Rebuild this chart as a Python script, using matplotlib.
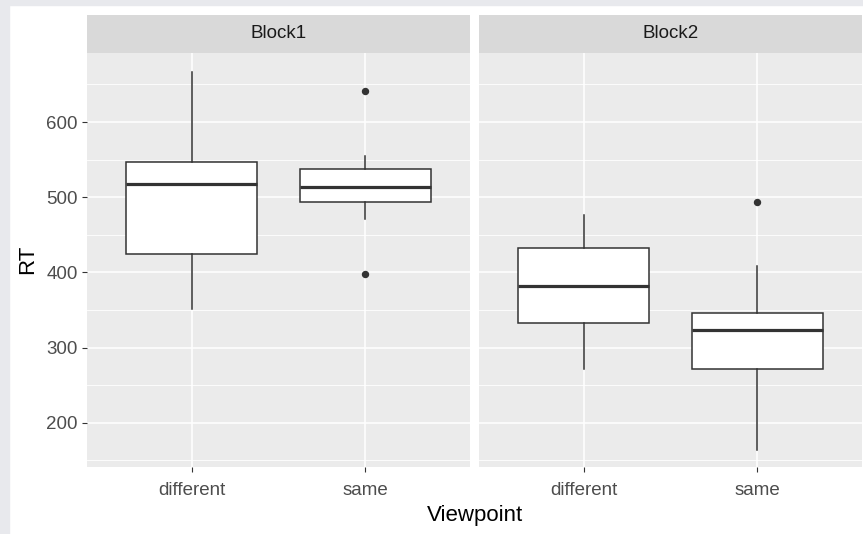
import matplotlib
matplotlib.use("Agg")
import matplotlib.pyplot as plt
from matplotlib.patches import Rectangle

plt.rcParams['font.family'] = ['Liberation Sans', 'DejaVu Sans']

# Values (RT by viewpoint, per block)
blocks = ["Block1", "Block2"]
viewpoints = ["different", "same"]
whislo = [[351, 471], [271, 164]]
q1 = [[424, 493], [333, 271]]
med = [[518, 513], [382, 323]]
q3 = [[547, 538], [432, 346]]
whishi = [[667, 555], [476, 408]]
fliers = [[[], [641, 398]], [[], [494]]]

W, H = 863, 534
fig = plt.figure(figsize=(W / 100, H / 100), dpi=100)
fig.patch.set_facecolor("white")

# light grey screenshot frame on left and top
fig.add_artist(Rectangle((0, 0), 9 / W, 1, transform=fig.transFigure, color="#e8e9ed", zorder=0))
fig.add_artist(Rectangle((0, 1 - 5 / H), 1, 5 / H, transform=fig.transFigure, color="#e8e9ed", zorder=0))

panel_left = [87.3, 479.3]
panel_w = 382.5
top, bottom = 52.7, 466.7
strip_top = 15

for i, blk in enumerate(blocks):
    ax = fig.add_axes([panel_left[i] / W, (H - bottom) / H, panel_w / W, (bottom - top) / H])
    ax.set_facecolor("#ebebeb")
    for s in ax.spines.values():
        s.set_visible(False)

    stats = []
    for j, vp in enumerate(viewpoints):
        stats.append(dict(label=vp, whislo=whislo[i][j], q1=q1[i][j], med=med[i][j],
                          q3=q3[i][j], whishi=whishi[i][j], fliers=fliers[i][j]))
    ax.bxp(stats, positions=[1, 2], widths=0.75, patch_artist=True, showcaps=False,
           boxprops=dict(facecolor="white", edgecolor="#333333", linewidth=1.1),
           medianprops=dict(color="#333333", linewidth=2.3, solid_capstyle="butt"),
           whiskerprops=dict(color="#333333", linewidth=1.1),
           flierprops=dict(marker="o", markerfacecolor="#333333", markeredgecolor="#333333",
                           markersize=4.3),
           zorder=3)

    ax.set_xlim(0.4, 2.6)
    ax.set_ylim(141.5, 692.2)
    ax.set_yticks([200, 300, 400, 500, 600])
    ax.set_yticks([150, 250, 350, 450, 550, 650], minor=True)
    ax.set_xticks([1, 2])
    ax.set_xticklabels(viewpoints)
    ax.grid(which="major", color="white", linewidth=1.1, zorder=0)
    ax.grid(which="minor", axis="y", color="white", linewidth=0.6, zorder=0)
    ax.set_axisbelow(True)
    ax.tick_params(which="major", length=3.5, width=0.8, color="#333333",
                   labelsize=13.5, labelcolor="#4d4d4d")
    ax.tick_params(axis="y", pad=3.5)
    ax.tick_params(axis="x", pad=7.5)
    ax.tick_params(which="minor", length=0)
    if i == 1:
        ax.tick_params(axis="y", left=False, labelleft=False)
    else:
        ax.set_ylabel("RT", fontsize=16, color="black", labelpad=6)

    # facet strip
    sax = fig.add_axes([panel_left[i] / W, (H - top) / H, panel_w / W, (top - strip_top) / H])
    sax.set_facecolor("#d9d9d9")
    sax.set_xticks([])
    sax.set_yticks([])
    for s in sax.spines.values():
        s.set_visible(False)
    sax.text(0.5, 0.5, blk, ha="center", va="center", fontsize=13.5, color="#1a1a1a",
             transform=sax.transAxes)

fig.text((panel_left[0] + panel_left[1] + panel_w) / 2 / W, 1 - 516 / H, "Viewpoint",
         ha="center", va="center", fontsize=16, color="black")

fig.savefig("out.png", dpi=100)
